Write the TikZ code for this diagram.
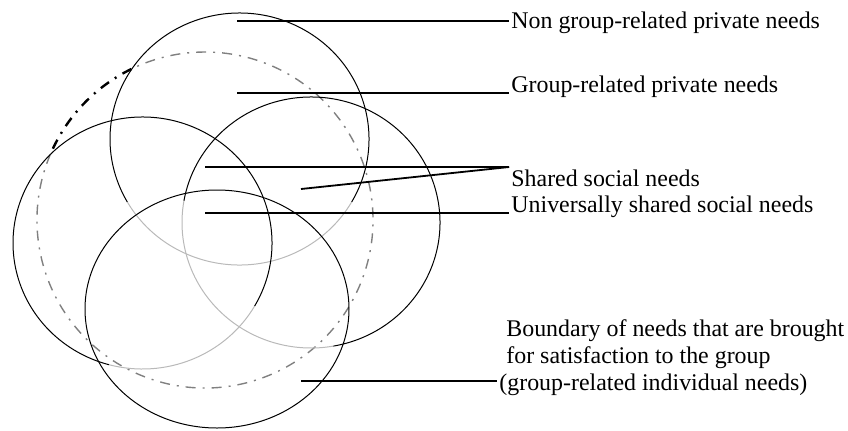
\documentclass[tikz,border=0pt]{standalone}
\usepackage{fontspec}
\setmainfont{Liberation Serif}
\usepackage{tikz}
\usetikzlibrary{calc}

\begin{document}
\begin{tikzpicture}[x=0.5pt,y=-0.5pt,
  ring/.style={line width=0.5pt},
  faint/.style={line width=0.5pt,gray!55},
  lead/.style={line width=0.9pt},
  bound/.style={line width=0.7pt,gray,dash pattern=on 5pt off 3.5pt on 1pt off 3.5pt},
  lbl/.style={anchor=base west,inner sep=1pt,font=\fontsize{11.95}{13.5}\selectfont}]
  \useasboundingbox (0,0) rectangle (848,430);

  \coordinate (T) at (239.5,139);
  \coordinate (L) at (142.5,243);
  \coordinate (R) at (311,222.5);
  \coordinate (B) at (217,309);
  \coordinate (O) at (205,220);

  % boundary of group-related needs
  \draw[bound] (O) ++(-157:168) arc[start angle=-157,end angle=-476,radius=168];
  \draw[bound,black,line width=1.2pt] (O) ++(-116:168) arc[start angle=-116,end angle=-157,radius=168];

  % the four circles
  \draw[ring] (T) ++(30:129.5 and 126) arc[start angle=30,end angle=-210,x radius=129.5,y radius=126];
  \draw[faint] (T) ++(-210:129.5 and 126) arc[start angle=-210,end angle=-330,x radius=129.5,y radius=126];
  \draw[faint] (L) ++(-255:129.5 and 126) arc[start angle=-255,end angle=-330,x radius=129.5,y radius=126];
  \draw[ring] (L) ++(-330:129.5 and 126) arc[start angle=-330,end angle=-615,x radius=129.5,y radius=126];
  \draw[faint] (R) ++(-170:129 and 125.5) arc[start angle=-170,end angle=-280,x radius=129,y radius=125.5];
  \draw[ring] (R) ++(-280:129 and 125.5) arc[start angle=-280,end angle=-530,x radius=129,y radius=125.5];
  \draw[ring] (B) ellipse[x radius=132,y radius=119];

  % labels
  \node[lbl] (nongrp) at (509,28) {Non group-related private needs};
  \node[lbl] (grppriv) at (509,92) {Group-related private needs};
  \node[lbl] (shared) at (509,186) {Shared social needs};
  \node[lbl] (univ) at (509,212) {Universally shared social needs};
  \node[lbl] (bnda) at (504,336) {Boundary of needs that are brought};
  \node[lbl] (bndb) at (504,363) {for satisfaction to the group};
  \node[lbl] (bndc) at (497,390) {(group-related individual needs)};

  \coordinate (a1) at (237,21);
  \coordinate (a2) at (237,93);
  \coordinate (a3) at (205,167);
  \coordinate (a4) at (301,189);
  \coordinate (a5) at (205,213);
  \coordinate (a6) at (301,381);

  \draw[lead] (a1) -- (a1 -| nongrp.west);
  \draw[lead] (a2) -- (a2 -| grppriv.west);
  \draw[lead] (a3) -- (shared.north west);
  \draw[lead] (a4) -- (shared.north west);
  \draw[lead] (a5) -- (a5 -| univ.west);
  \draw[lead] (a6) -- (a6 -| bndc.west);
\end{tikzpicture}
\end{document}
